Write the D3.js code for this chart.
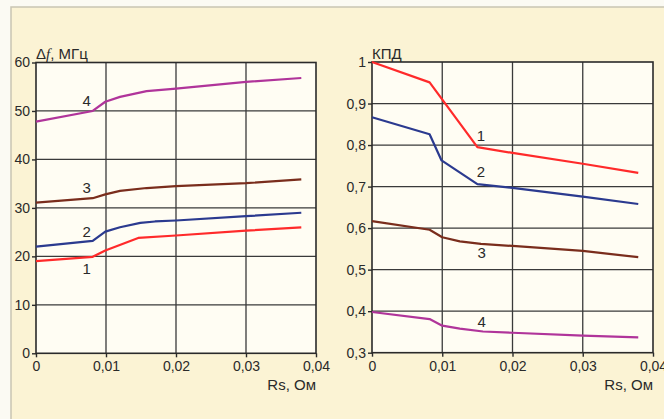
<!DOCTYPE html>
<html><head><meta charset="utf-8">
<script src="https://cdn.jsdelivr.net/npm/d3@7/dist/d3.min.js"></script>
<style>
html,body{margin:0;padding:0;background:#fbfaf3;}
svg{display:block;}
text{font-family:"Liberation Sans Narrow","Arial Narrow","Liberation Sans",sans-serif;fill:#2a2a2a;}
</style></head>
<body>
<svg id="c" width="664" height="419"></svg>
<script>
// ---- data ----
const seriesNames = ["1", "2", "3", "4"];
const seriesColors = ["#ff2a2a", "#2b3a8f", "#7a2d1c", "#b0349a"];
const xTicks = [0, 0.01, 0.02, 0.03, 0.04];
const xTickLabels = ["0", "0,01", "0,02", "0,03", "0,04"];
const dfTicks = [0, 10, 20, 30, 40, 50, 60];
const dfTickLabels = ["0", "10", "20", "30", "40", "50", "60"];
const effTicks = [0.3, 0.4, 0.5, 0.6, 0.7, 0.8, 0.9, 1];
const effTickLabels = ["0,3", "0,4", "0,5", "0,6", "0,7", "0,8", "0,9", "1"];

// Δf, MHz vs Rs
const df1 = [[0,19.0],[0.0081,19.9],[0.0099,21.2],[0.0146,23.8],[0.02,24.3],[0.03,25.3],[0.0379,26.0]];
const df2 = [[0,22.0],[0.0081,23.2],[0.0099,25.1],[0.012,26.0],[0.0149,26.9],[0.017,27.2],[0.02,27.4],[0.03,28.3],[0.0379,29.0]];
const df3 = [[0,31.1],[0.0081,32.0],[0.0099,32.8],[0.012,33.5],[0.0158,34.1],[0.02,34.5],[0.03,35.1],[0.0379,35.9]];
const df4 = [[0,47.8],[0.0081,50.0],[0.0099,51.9],[0.012,52.9],[0.0158,54.1],[0.02,54.6],[0.03,56.0],[0.0379,56.8]];
// efficiency vs Rs
const eff1 = [[0,1.0],[0.0082,0.951],[0.015,0.795],[0.02,0.781],[0.03,0.755],[0.0379,0.733]];
const eff2 = [[0,0.867],[0.0082,0.826],[0.0099,0.763],[0.015,0.706],[0.02,0.697],[0.03,0.676],[0.0379,0.658]];
const eff3 = [[0,0.617],[0.0082,0.596],[0.01,0.578],[0.0125,0.568],[0.0155,0.562],[0.02,0.557],[0.03,0.545],[0.0379,0.530]];
const eff4 = [[0,0.398],[0.0082,0.381],[0.01,0.365],[0.0125,0.358],[0.0158,0.351],[0.02,0.348],[0.03,0.341],[0.0379,0.337]];
// curve label anchor positions (data coords)
const dfLabelPos = [[0.00724,17.5],[0.00724,25.0],[0.00724,34.1],[0.00724,52.1]];
const effLabelPos = [[0.0155,0.822],[0.0155,0.735],[0.0156,0.540],[0.0156,0.374]];

// ---- drawing ----
const svg = d3.select("#c");
svg.append("rect").attr("x",11).attr("y",7).attr("width",700).attr("height",450)
  .attr("fill","#fbf3d4").attr("stroke","#c9c5b3").attr("stroke-width",1.5);

function panel(opts){
  const {x0,x1,y0,y1,yDomain,yTicks,yLabels,series,labelPos,title} = opts;
  const x = d3.scaleLinear().domain([0,0.04]).range([x0,x1]);
  const y = d3.scaleLinear().domain(yDomain).range([y1,y0]);
  const g = svg.append("g");
  g.append("rect").attr("x",x0).attr("y",y0).attr("width",x1-x0).attr("height",y1-y0)
    .attr("fill","#fffdf3");
  // grid
  g.selectAll(".gx").data(xTicks.slice(1,-1)).join("line")
    .attr("x1",d=>x(d)).attr("x2",d=>x(d)).attr("y1",y0).attr("y2",y1)
    .attr("stroke","#3a3a3a").attr("stroke-width",1.3);
  g.selectAll(".gy").data(yTicks.slice(1,-1)).join("line")
    .attr("y1",d=>y(d)).attr("y2",d=>y(d)).attr("x1",x0).attr("x2",x1)
    .attr("stroke","#3a3a3a").attr("stroke-width",1.3);
  g.append("rect").attr("x",x0).attr("y",y0).attr("width",x1-x0).attr("height",y1-y0)
    .attr("fill","none").attr("stroke","#2a2a2a").attr("stroke-width",1.6);
  // axes
  const ax = d3.axisBottom(x).tickValues(xTicks).tickFormat((d,i)=>xTickLabels[i]).tickSize(4).tickPadding(4);
  const gx = g.append("g").attr("transform",`translate(0,${y1})`).call(ax);
  const ay = d3.axisLeft(y).tickValues(yTicks).tickFormat((d,i)=>yLabels[i]).tickSize(4).tickPadding(2);
  const gy = g.append("g").attr("transform",`translate(${x0},0)`).call(ay);
  [gx,gy].forEach(a=>{
    a.select(".domain").remove();
    a.selectAll("line").attr("stroke","#2a2a2a").attr("stroke-width",1.4);
    a.selectAll("text").attr("font-size",14).attr("fill","#2a2a2a")
      .style("font-family","'Liberation Sans Narrow','Arial Narrow',sans-serif");
  });
  // lines
  const line = d3.line().x(d=>x(d[0])).y(d=>y(d[1])).curve(d3.curveLinear);
  series.forEach((s,i)=>{
    g.append("path").datum(s).attr("d",line).attr("fill","none")
      .attr("stroke",seriesColors[i]).attr("stroke-width",2.2).attr("stroke-linejoin","round");
  });
  labelPos.forEach((p,i)=>{
    g.append("text").attr("x",x(p[0])).attr("y",y(p[1])).attr("dy","0.35em")
      .attr("text-anchor","middle").attr("font-size",15).text(seriesNames[i]);
  });
  // axis titles
  title(g, x0);
  g.append("text").attr("x",x1).attr("y",y1+37).attr("text-anchor","end")
    .attr("font-size",15).text("Rs, Ом");
}

panel({x0:36,x1:316,y0:62.5,y1:353.3,yDomain:[0,60],yTicks:dfTicks,yLabels:dfTickLabels,
  series:[df1,df2,df3,df4],labelPos:dfLabelPos,
  title:(g,x0)=>{
    const t = g.append("text").attr("x",x0).attr("y",59).attr("font-size",15);
    t.append("tspan").text("Δ");
    t.append("tspan").attr("font-style","italic").style("font-family","'Liberation Serif',serif").text("f");
    t.append("tspan").text(", МГц");
  }});
panel({x0:372,x1:653,y0:62,y1:352.7,yDomain:[0.3,1],yTicks:effTicks,yLabels:effTickLabels,
  series:[eff1,eff2,eff3,eff4],labelPos:effLabelPos,
  title:(g,x0)=>{
    g.append("text").attr("x",x0).attr("y",59).attr("font-size",15).text("КПД");
  }});
</script>
</body></html>
